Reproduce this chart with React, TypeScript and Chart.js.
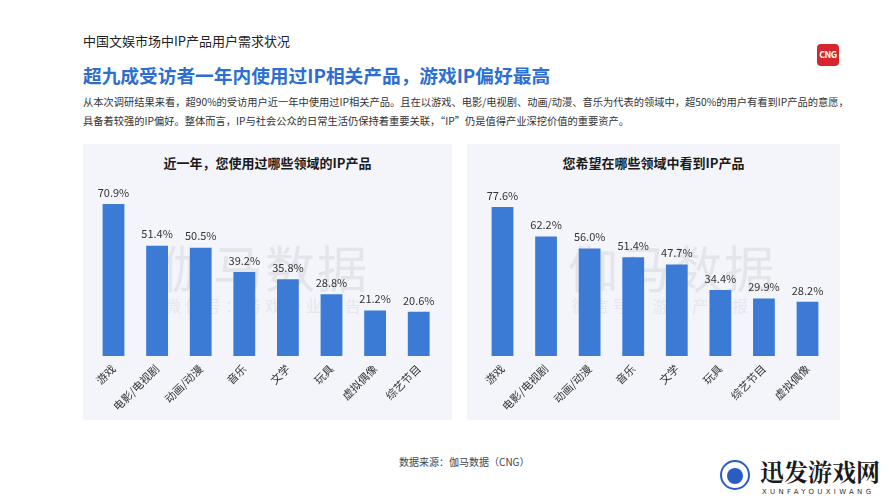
import React, { useEffect, useRef } from "react";
import { Chart, registerables } from "chart.js";

Chart.register(...registerables);

const leftTitle = "近一年，您使用过哪些领域的IP产品";
const leftCategories = ["游戏", "电影/电视剧", "动画/动漫", "音乐", "文学", "玩具", "虚拟偶像", "综艺节目"];
const leftValues = [70.9, 51.4, 50.5, 39.2, 35.8, 28.8, 21.2, 20.6];

const rightTitle = "您希望在哪些领域中看到IP产品";
const rightCategories = ["游戏", "电影/电视剧", "动画/动漫", "音乐", "文学", "玩具", "综艺节目", "虚拟偶像"];
const rightValues = [77.6, 62.2, 56.0, 51.4, 47.7, 34.4, 29.9, 28.2];

const FONT = '"Noto Sans CJK SC", "Noto Sans", sans-serif';
const BAR_COLOR = "#3b7bd6";
const PANEL_BG = "#f4f5fb";

const valueLabels = {
  id: "valueLabels",
  afterDatasetsDraw(chart: any) {
    const { ctx } = chart;
    const meta = chart.getDatasetMeta(0);
    const data = chart.data.datasets[0].data as number[];
    ctx.save();
    ctx.font = `11px ${FONT}`;
    ctx.fillStyle = "#333333";
    ctx.textAlign = "center";
    ctx.textBaseline = "bottom";
    meta.data.forEach((bar: any, i: number) => {
      ctx.fillText(data[i].toFixed(1) + "%", bar.x, bar.y - 6);
    });
    ctx.restore();
  },
};

type BarProps = {
  categories: string[];
  values: number[];
  width: number;
  height: number;
  yMax: number;
  padLeft: number;
  padRight: number;
  padTop: number;
  axisHeight: number;
};

function BarChart(p: BarProps) {
  const ref = useRef<HTMLCanvasElement | null>(null);
  useEffect(() => {
    if (!ref.current) return;
    const chart = new Chart(ref.current, {
      type: "bar",
      data: {
        labels: p.categories,
        datasets: [
          {
            data: p.values,
            backgroundColor: BAR_COLOR,
            borderWidth: 0,
            barPercentage: 0.5,
            categoryPercentage: 1,
          },
        ],
      },
      options: {
        animation: false,
        responsive: false,
        maintainAspectRatio: false,
        layout: { padding: { left: p.padLeft, right: p.padRight, top: p.padTop, bottom: 0 } },
        plugins: { legend: { display: false }, tooltip: { enabled: false }, title: { display: false } },
        scales: {
          x: {
            grid: { display: false, drawTicks: false },
            border: { display: false },
            ticks: {
              autoSkip: false,
              minRotation: 45,
              maxRotation: 45,
              padding: 6,
              color: "#333333",
              font: { family: FONT, size: 11 },
            },
            afterFit: (scale: any) => {
              scale.height = p.axisHeight;
            },
          },
          y: {
            display: false,
            min: 0,
            max: p.yMax,
          },
        },
      },
      plugins: [valueLabels],
    });
    return () => chart.destroy();
  }, []);
  return (
    <canvas
      ref={ref}
      width={p.width}
      height={p.height}
      style={{ position: "absolute", left: 0, top: 0, width: p.width, height: p.height }}
    />
  );
}

function Panel(props: {
  left: number;
  width: number;
  title: string;
  wmCenter: number;
  children: React.ReactNode;
}) {
  return (
    <div
      style={{
        position: "absolute",
        left: props.left,
        top: 144,
        width: props.width,
        height: 276,
        background: PANEL_BG,
      }}
    >
      <div
        style={{
          position: "absolute",
          left: 0,
          width: props.width,
          top: 10,
          textAlign: "center",
          fontSize: 13,
          fontWeight: 700,
          color: "#1a1a1a",
          lineHeight: "18px",
        }}
      >
        {props.title}
      </div>
      <div
        style={{
          position: "absolute",
          left: props.wmCenter - 150,
          width: 300,
          top: 92,
          textAlign: "center",
          fontSize: 50,
          color: "#e4e5ea",
          lineHeight: "60px",
          letterSpacing: 2,
          whiteSpace: "nowrap",
        }}
      >
        伽马数据
      </div>
      <div
        style={{
          position: "absolute",
          left: props.wmCenter - 150,
          width: 300,
          top: 150,
          textAlign: "center",
          fontSize: 16,
          color: "#e6e7ec",
          lineHeight: "22px",
          letterSpacing: 4,
          whiteSpace: "nowrap",
        }}
      >
        微信号：游戏产业报告
      </div>
      {props.children}
    </div>
  );
}

export default function App() {
  useEffect(() => {
    Chart.defaults.font.family = FONT;
  }, []);
  return (
    <div
      style={{
        position: "absolute",
        left: 0,
        top: 0,
        width: 889,
        height: 500,
        background: "#ffffff",
        fontFamily: FONT,
        overflow: "hidden",
      }}
    >
      <div style={{ position: "absolute", left: 83, top: 32, fontSize: 13, color: "#222", lineHeight: "18px", whiteSpace: "nowrap" }}>
        中国文娱市场中IP产品用户需求状况
      </div>
      <div
        style={{
          position: "absolute",
          left: 83,
          top: 63,
          fontSize: 18.7,
          fontWeight: 700,
          color: "#2d6fd0",
          lineHeight: "24px",
          whiteSpace: "nowrap",
        }}
      >
        超九成受访者一年内使用过IP相关产品，游戏IP偏好最高
      </div>
      <div
        style={{
          position: "absolute",
          left: 83,
          top: 92,
          fontSize: 10.25,
          color: "#333",
          lineHeight: "19px",
          whiteSpace: "nowrap",
        }}
      >
        从本次调研结果来看，超90%的受访用户近一年中使用过IP相关产品。且在以游戏、电影/电视剧、动画/动漫、音乐为代表的领域中，超50%的用户有看到IP产品的意愿，
        <br />
        具备着较强的IP偏好。整体而言，IP与社会公众的日常生活仍保持着重要关联，“IP”仍是值得产业深挖价值的重要资产。
      </div>
      <div
        style={{
          position: "absolute",
          left: 817,
          top: 44,
          width: 22,
          height: 22,
          borderRadius: 4,
          background: "#d7262e",
          color: "#fff",
          fontSize: 9,
          fontWeight: 700,
          lineHeight: "22px",
          textAlign: "center",
          letterSpacing: -0.5,
        }}
      >
        CNG
      </div>

      <Panel left={83} width={369} title={leftTitle} wmCenter={182}>
        <BarChart
          categories={leftCategories}
          values={leftValues}
          width={369}
          height={276}
          yMax={80}
          padLeft={8.7}
          padRight={11.5}
          padTop={40.5}
          axisHeight={64}
        />
      </Panel>
      <Panel left={467} width={373} title={rightTitle} wmCenter={205}>
        <BarChart
          categories={rightCategories}
          values={rightValues}
          width={373}
          height={276}
          yMax={90}
          padLeft={13.7}
          padRight={10.7}
          padTop={39.2}
          axisHeight={64}
        />
      </Panel>

      <div style={{ position: "absolute", left: 399, top: 455, fontSize: 10, color: "#444", lineHeight: "14px", whiteSpace: "nowrap" }}>
        数据来源：伽马数据（CNG）
      </div>

      <div
        style={{
          position: "absolute",
          left: 720,
          top: 460,
          width: 30,
          height: 30,
          borderRadius: "50%",
          border: "2px solid #2a5cc4",
          background: "#ffffff",
          boxSizing: "border-box",
        }}
      >
        <div style={{ position: "absolute", left: 5, top: 6, width: 16, height: 16, borderRadius: "50%", background: "#2a5cc4" }} />
      </div>
      <div
        style={{
          position: "absolute",
          left: 760,
          top: 457,
          fontSize: 24,
          fontWeight: 700,
          color: "#1a1a1a",
          lineHeight: "28px",
          fontFamily: '"Noto Serif CJK SC", "Noto Sans CJK SC", serif',
          whiteSpace: "nowrap",
        }}
      >
        迅发游戏网
      </div>
      <div
        style={{
          position: "absolute",
          left: 762,
          top: 487,
          fontSize: 7,
          color: "#333",
          lineHeight: "10px",
          letterSpacing: 3.3,
          whiteSpace: "nowrap",
          fontFamily: '"DejaVu Sans", sans-serif',
        }}
      >
        XUNFAYOUXIWANG
      </div>
    </div>
  );
}
